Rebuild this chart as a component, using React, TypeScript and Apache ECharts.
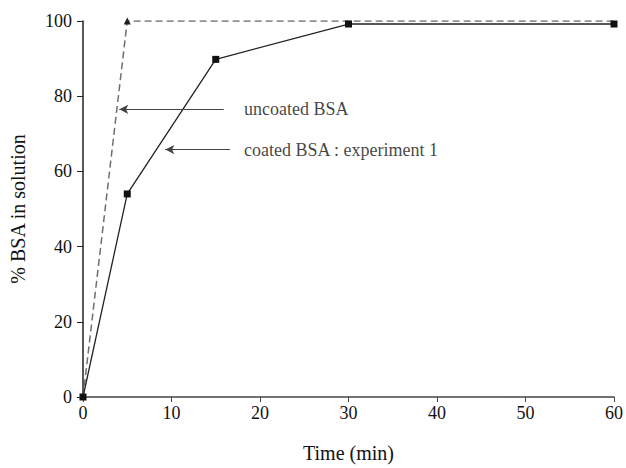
import React, { useEffect, useRef } from "react";
import * as echarts from "echarts";

const timeMin = [0, 5, 15, 30, 60];
const uncoatedTimes = [0, 5, 60];
const uncoatedValues = [0, 100, 100];
const coated = [0, 54, 89.8, 99.2, 99.2];
const xTicks = [0, 10, 20, 30, 40, 50, 60];
const yTicks = [0, 20, 40, 60, 80, 100];
const annotations = [
  { text: "uncoated BSA", from: [15.9, 76.5], to: [4.1, 76.5], labelAt: [18.2, 76.5] },
  { text: "coated BSA : experiment 1", from: [16.6, 65.8], to: [9.3, 65.8], labelAt: [18.2, 65.8] },
];

const FONT = "'Liberation Serif', 'DejaVu Serif', serif";

export default function App() {
  const ref = useRef<HTMLDivElement>(null);
  useEffect(() => {
    if (!ref.current) return;
    const chart = echarts.init(ref.current, undefined, { renderer: "svg" });
    const axisLabel = { fontFamily: FONT, fontSize: 18, color: "#111" };
    chart.setOption({
      animation: false,
      backgroundColor: "#ffffff",
      grid: { left: 73, right: 10, top: 21, bottom: 55, containLabel: false },
      xAxis: {
        type: "value",
        min: xTicks[0],
        max: xTicks[xTicks.length - 1],
        interval: 10,
        name: "Time (min)",
        nameLocation: "middle",
        nameGap: 46,
        nameTextStyle: { fontFamily: FONT, fontSize: 20, color: "#111" },
        axisLine: { lineStyle: { color: "#444", width: 1.5 } },
        axisTick: { show: true, length: 5, lineStyle: { color: "#444" } },
        axisLabel: { ...axisLabel, margin: 7 },
        splitLine: { show: false },
      },
      yAxis: {
        type: "value",
        min: yTicks[0],
        max: yTicks[yTicks.length - 1],
        interval: 20,
        name: "% BSA in solution",
        nameLocation: "middle",
        nameGap: 55,
        nameTextStyle: { fontFamily: FONT, fontSize: 20, color: "#111" },
        axisLine: { show: true, lineStyle: { color: "#222", width: 1.5 } },
        axisTick: { show: true, length: 6, lineStyle: { color: "#222" } },
        axisLabel: { ...axisLabel, margin: 11 },
        splitLine: { show: false },
      },
      series: [
        {
          name: "uncoated BSA",
          type: "line",
          data: uncoatedTimes.map((t, i) => [t, uncoatedValues[i]]),
          symbol: (v: number[]) => (v[0] === 5 ? "triangle" : "none"),
          symbolSize: 7,
          itemStyle: { color: "#222" },
          lineStyle: { color: "#6e6e6e", width: 1.5, type: [7, 4] },
          z: 2,
        },
        {
          name: "coated BSA : experiment 1",
          type: "line",
          data: timeMin.map((t, i) => [t, coated[i]]),
          symbol: "rect",
          symbolSize: 7,
          itemStyle: { color: "#111" },
          lineStyle: { color: "#222", width: 1.3 },
          z: 3,
          markLine: {
            silent: true,
            symbol: ["none", "arrow"],
            symbolSize: [7, 9],
            label: { show: false },
            lineStyle: { color: "#444", width: 1.2, type: "solid" },
            data: annotations.map((a) => [{ coord: a.from }, { coord: a.to }]),
          },
        },
        {
          name: "labels",
          type: "scatter",
          data: annotations.map((a) => ({ value: a.labelAt, name: a.text })),
          symbolSize: 0,
          silent: true,
          label: {
            show: true,
            position: "right",
            distance: 0,
            formatter: (p: any) => p.name,
            fontFamily: FONT,
            fontSize: 18,
            color: "#111",
          },
        },
      ],
    });
    return () => chart.dispose();
  }, []);
  return (
    <div
      ref={ref}
      style={{ position: "fixed", left: 0, top: 0, width: 626, height: 468, background: "#fff" }}
    />
  );
}
